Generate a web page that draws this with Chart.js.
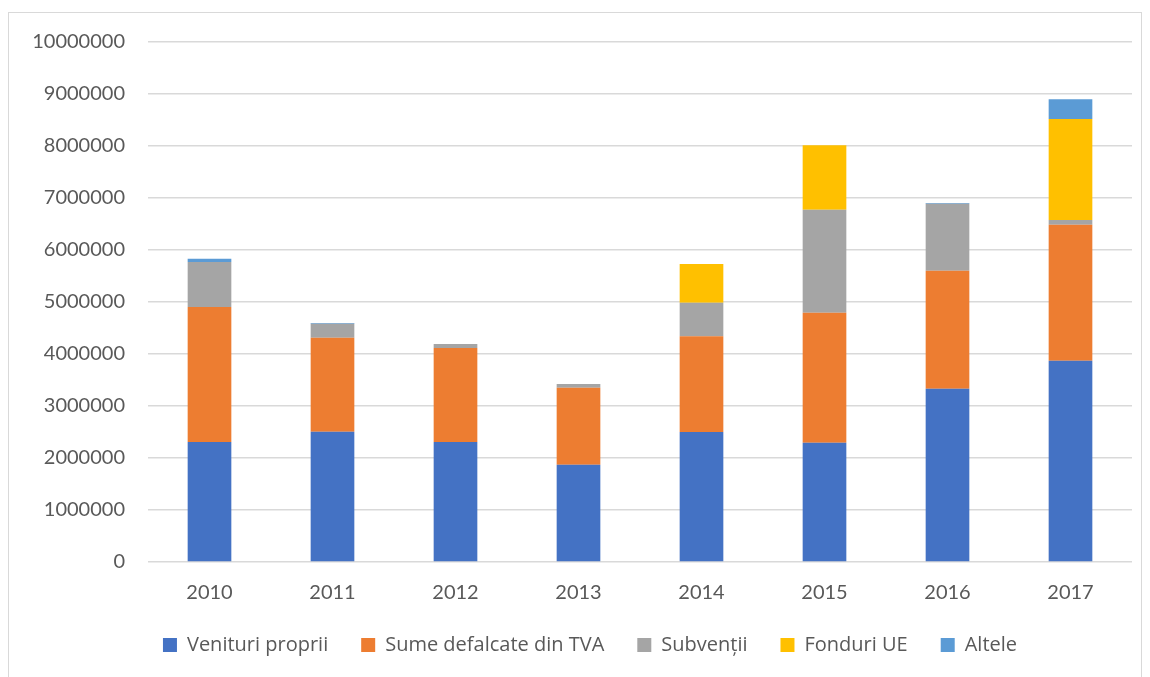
<!DOCTYPE html>
<html>
<head>
<meta charset="utf-8">
<script src="https://cdn.jsdelivr.net/npm/chart.js@4.4.1/dist/chart.umd.min.js"></script>
<style>
  html, body { margin: 0; padding: 0; background: #fff; }
  #frame {
    position: absolute;
    left: 8px; top: 12px;
    width: 1134px; height: 680px;
    border: 1.5px solid #d9d9d9;
    box-sizing: border-box;
  }
  #wrap {
    position: absolute;
    left: 9.5px; top: 7px;
    width: 1131px; height: 670px;
  }
  #budgetChart { display: block; }
</style>
</head>
<body>
<div id="frame"></div>
<div id="wrap"><canvas id="budgetChart"></canvas></div>
<script>
// Budget revenue structure by year (lei)
const years = ['2010', '2011', '2012', '2013', '2014', '2015', '2016', '2017'];
const venituriProprii = [2310000, 2505000, 2310000, 1872000, 2500000, 2295000, 3333000, 3872000];
const sumeDefalcate   = [2594000, 1809000, 1805000, 1480000, 1840000, 2500000, 2270000, 2615000];
const subventii       = [ 865000,  269000,   75000,   71000,  647000, 1980000, 1288000,   90000];
const fonduriUE       = [      0,       0,       0,       0,  744000, 1238000,       0, 1943000];
const altele          = [  64000,   13000,       0,       0,       0,       0,   13000,  380000];
const yTicks = [0, 1000000, 2000000, 3000000, 4000000, 5000000, 6000000, 7000000, 8000000, 9000000, 10000000];

const textColor = '#595959';
const gridColor = '#d9d9d9';
const axisFont = "Lato, 'Open Sans', sans-serif";
const legendFont = "'Open Sans', Lato, sans-serif";

// nudge the centred legend a little to the right
const legendShift = {
    id: 'legendShift',
    afterUpdate(chart) {
        chart.legend.left += 19;
        chart.legend.right += 19;
    }
};

document.addEventListener('DOMContentLoaded', () => {
    const ctx = document.getElementById('budgetChart');

    const series = [
        { label: 'Venituri proprii', data: venituriProprii, color: '#4472c4' },
        { label: 'Sume defalcate din TVA', data: sumeDefalcate, color: '#ed7d31' },
        { label: 'Subvenții', data: subventii, color: '#a5a5a5' },
        { label: 'Fonduri UE', data: fonduriUE, color: '#ffc000' },
        { label: 'Altele', data: altele, color: '#5b9bd5' }
    ];

    const data = {
        labels: years,
        datasets: series.map(s => ({
            label: s.label,
            data: s.data,
            backgroundColor: s.color,
            borderWidth: 0,
            categoryPercentage: 1,
            barPercentage: 0.355
        }))
    };

    const config = {
        type: 'bar',
        data: data,
        plugins: [legendShift],
        options: {
            responsive: true,
            maintainAspectRatio: false,
            animation: false,
            layout: {
                padding: { left: 0, right: 9, top: 0, bottom: 12 }
            },
            scales: {
                x: {
                    stacked: true,
                    grid: { display: false },
                    border: { display: false },
                    afterFit: axis => { axis.height -= 14; },
                    ticks: {
                        color: textColor,
                        padding: 11,
                        font: { family: axisFont, size: 20 }
                    }
                },
                y: {
                    stacked: true,
                    min: 0,
                    max: 10000000,
                    afterBuildTicks: axis => {
                        axis.ticks = yTicks.map(v => ({ value: v }));
                    },
                    afterFit: axis => { axis.width = 138; },
                    grid: { color: gridColor, lineWidth: 1.5, drawTicks: false },
                    border: { display: false },
                    ticks: {
                        color: textColor,
                        padding: 23,
                        font: { family: axisFont, size: 20 },
                        callback: v => String(v)
                    }
                }
            },
            plugins: {
                legend: {
                    position: 'bottom',
                    labels: {
                        color: textColor,
                        boxWidth: 14,
                        boxHeight: 14,
                        padding: 33,
                        font: { family: legendFont, size: 20 }
                    }
                },
                tooltip: { enabled: false }
            }
        }
    };

    new Chart(ctx, config);
});
</script>
</body>
</html>
